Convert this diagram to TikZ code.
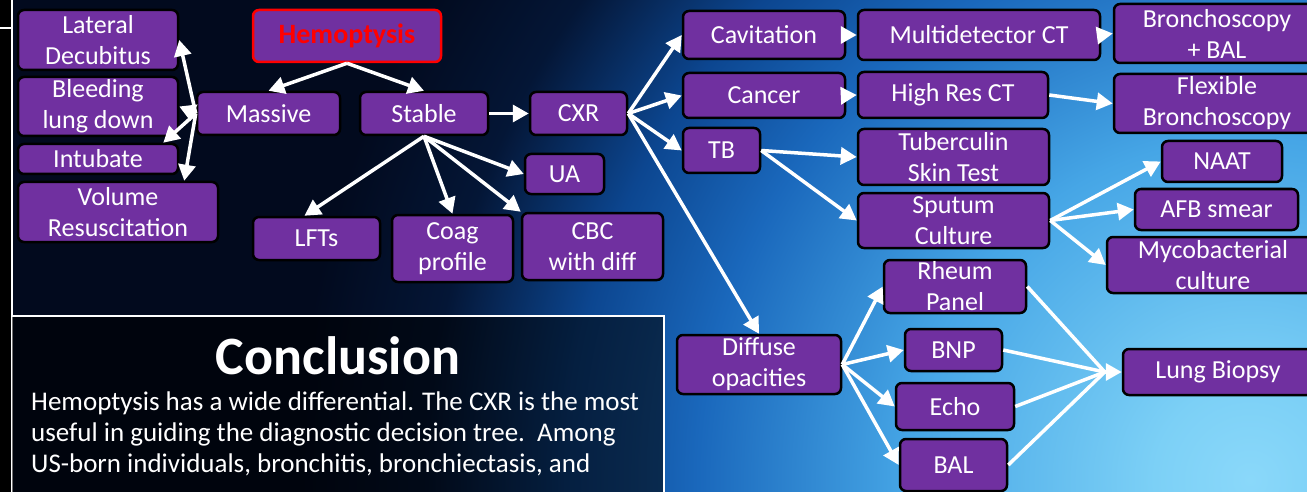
\documentclass[tikz,border=0pt]{standalone}
\usepackage{fontspec}
\setmainfont{Carlito}
\usetikzlibrary{arrows.meta, calc, positioning}
\definecolor{boxpurple}{HTML}{7030A0}
\definecolor{bg0}{HTML}{8AD8FA}
\definecolor{bg1}{HTML}{7CD0F6}
\definecolor{bg2}{HTML}{46A6E6}
\definecolor{bg3}{HTML}{1A68BC}
\definecolor{bg4}{HTML}{0C4690}
\definecolor{bg5}{HTML}{041636}
\definecolor{bg6}{HTML}{020A1E}
% glow of the slide, radii in px of the picture
\pgfdeclareradialshading{slideglow}{\pgfpoint{0bp}{0bp}}{%
  color(0bp)=(bg0); color(95bp)=(bg1); color(340bp)=(bg2); color(550bp)=(bg3);
  color(680bp)=(bg4); color(820bp)=(bg5); color(950bp)=(bg6); color(1300bp)=(bg6)}
\tikzset{
>={Triangle[length=16pt,width=17pt]}, % filled white arrow heads
box/.style={rectangle, rounded corners=6pt, draw=black, line width=2.5pt,
  fill=boxpurple, text=white, align=center, inner sep=0pt,
  font=\fontsize{26}{31}\selectfont}, % purple test boxes
arr/.style={->, white, line width=3.5pt}, % white connectors
wire/.style={white, line width=3.5pt}, % connectors without head
}
\begin{document}
\begin{tikzpicture}[x=1pt, y=-1pt]
  \useasboundingbox (0,0) rectangle (1307,492);
  % background
  \begin{scope}
    \clip (0,0) rectangle (1307,492);
    \fill[bg6] (0,0) rectangle (1307,492);
    \node[inner sep=0pt] (glow) at (1250,480) {\pgfuseshading{slideglow}};
  \end{scope}
  \fill[black] (0,0) rectangle (12,492);
  \draw[white, line width=1.5pt] (12,0) -- (12,492) (0,28) -- (12,28);
  % conclusion panel
  \fill[black, opacity=0.55] (12,316) rectangle (664,492);
  \draw[white, line width=1.5pt] (12,316) -- (664,316) -- (664,492);
  \node[font=\bfseries\fontsize{54}{60}\selectfont, text=white, anchor=base] (concl) at (338,374) {Conclusion};
  \node[text=white, align=left, anchor=north west, inner sep=0pt, font=\fontsize{27}{31}\selectfont] (summary) at (31,392)
    {Hemoptysis has a wide differential. The CXR is the most\\
     useful in guiding the diagnostic decision tree.\ \ Among\\
     US-born individuals, bronchitis, bronchiectasis, and};

  % left branch
  \node[box, minimum width=188, minimum height=52, draw=red, text=red, font=\bfseries\fontsize{28}{31}\selectfont] (hemo) at (347,36) {Hemoptysis};
  \node[box, minimum width=143, minimum height=43] (massive) at (268.5,113.5) {Massive};
  \node[box, minimum width=128, minimum height=43] (stable) at (424,113.5) {Stable};
  \node[box, minimum width=160, minimum height=60] (lat) at (98,40) {Lateral\\Decubitus};
  \node[box, minimum width=160, minimum height=59] (bleed) at (98,106.5) {Bleeding\\lung down};
  \node[box, minimum width=160, minimum height=30] (intub) at (98,159) {Intubate};
  \node[box, minimum width=200, minimum height=60] (vol) at (118,212) {Volume\\Resuscitation};
  \node[box, minimum width=127, minimum height=43] (lfts) at (316.5,238.5) {LFTs};
  \node[box, minimum width=121, minimum height=67] (coag) at (452.5,248.5) {Coag\\profile};
  \node[box, minimum width=141, minimum height=67] (cbc) at (592.5,246.5) {CBC\\with diff};
  \node[box, minimum width=79, minimum height=40] (ua) at (564.5,174) {UA};
  \node[box, minimum width=97, minimum height=43] (cxr) at (578.5,113.5) {CXR};

  % right branch
  \node[box, minimum width=162, minimum height=48] (cav) at (764,35) {Cavitation};
  \node[box, minimum width=242, minimum height=50] (mdct) at (979,35) {Multidetector CT};
  \node[box, minimum width=206, minimum height=59] (bronbal) at (1217,33.5) {Bronchoscopy\\+ BAL};
  \node[box, minimum width=162, minimum height=45] (cancer) at (764,95.5) {Cancer};
  \node[box, minimum width=190, minimum height=46] (hrct) at (953,95) {High Res CT};
  \node[box, minimum width=206, minimum height=59] (flex) at (1217,103.5) {Flexible\\Bronchoscopy};
  \node[box, minimum width=77, minimum height=45] (tb) at (721.5,150.5) {TB};
  \node[box, minimum width=191, minimum height=56] (tst) at (953.5,157) {Tuberculin\\Skin Test};
  \node[box, minimum width=191, minimum height=55] (sput) at (953.5,220.5) {Sputum\\Culture};
  \node[box, minimum width=120, minimum height=41] (naat) at (1222,161.5) {NAAT};
  \node[box, minimum width=163, minimum height=41] (afb) at (1216.5,209.5) {AFB smear};
  \node[box, minimum width=212, minimum height=56] (myco) at (1213,265) {Mycobacterial\\culture};
  \node[box, minimum width=164, minimum height=59] (diff) at (759,364.5) {Diffuse\\opacities};
  \node[box, minimum width=142, minimum height=53] (rheum) at (955,286.5) {Rheum\\Panel};
  \node[box, minimum width=97, minimum height=42] (bnp) at (953.5,350) {BNP};
  \node[box, minimum width=118, minimum height=47] (echo) at (955,406.5) {Echo};
  \node[box, minimum width=107, minimum height=52] (bal) at (953.5,465) {BAL};
  \node[box, minimum width=190, minimum height=46] (lung) at (1218,372) {Lung Biopsy};
  \coordinate (lbin) at ($(lung.west)+(-17,0)$);

  \path[arr]
  (hemo.south) edge (massive.north)
               edge (stable.north)
  (massive.west) edge (lat.east)
                 edge (bleed.east)
                 edge ($(intub.north east)+(-16,0)$)
                 edge ($(vol.north east)+(-35,0)$)
  (stable.south) edge ($(lfts.north)+(-12,0)$)
                 edge (coag.north)
                 edge (cbc.north west)
                 edge (ua.west)
  (stable.east) edge (cxr.west)
  (cxr.east) edge (cav.west)
             edge (cancer.west)
             edge (tb.west)
             edge (diff.north)
  (cav.east) edge (mdct.west)
  (mdct.east) edge (bronbal.west)
  (cancer.east) edge (hrct.west)
  (hrct.east) edge (flex.west)
  (tb.east) edge (tst.west)
            edge (sput.west)
  (sput.east) edge (naat.west)
              edge (afb.west)
              edge (myco.west)
  (diff.east) edge (rheum.west)
              edge (bnp.west)
              edge (echo.west)
              edge (bal.west)
  (lbin) edge (lung.west);
  \path[wire]
  (rheum.east) edge (lbin)
  (bnp.east) edge (lbin)
  (echo.east) edge (lbin)
  (bal.east) edge (lbin);
\end{tikzpicture}
\end{document}
